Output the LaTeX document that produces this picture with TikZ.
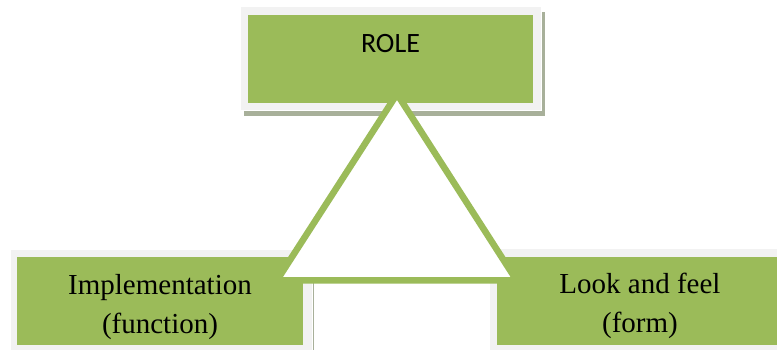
\documentclass[tikz,border=0pt]{standalone}
\usepackage{fontspec}
\setmainfont{Liberation Serif}
\newfontfamily\carl{Carlito}
\definecolor{ogreen}{HTML}{9BBB59}
\definecolor{oframe}{HTML}{F2F2F2}
\definecolor{oshadow}{HTML}{A8B09A}
\begin{document}
\begin{tikzpicture}[x=1pt,y=-1pt,
  shadowbox/.style={rectangle,inner sep=0pt,fill=oshadow,draw=none},
  framebox/.style={rectangle,inner sep=0pt,fill=oframe,draw=white,line width=1pt},
  greenbox/.style={rectangle,inner sep=0pt,fill=ogreen,draw=none},
  serifline/.style={anchor=base,inner sep=0pt,font=\fontsize{29}{39}\selectfont},
  roletext/.style={anchor=base,inner sep=0pt,font=\carl\fontsize{28}{34}\selectfont},
  tri/.style={draw=ogreen,fill=white,line width=6.5pt,line join=miter}]
\useasboundingbox (0,0) rectangle (777,350);
% top box
\node[shadowbox,minimum width=301pt,minimum height=104pt] (roleshadow) at (394.5,64) {};
\node[framebox,minimum width=301pt,minimum height=104.5pt] (roleframe) at (390.5,58.75) {};
\node[greenbox,minimum width=285pt,minimum height=88pt] (rolebox) at (390.5,59) {};
\node[roletext] (roletxt) at (390.5,53) {ROLE};
% left box
\node[shadowbox,minimum width=300pt,minimum height=106pt] (implshadow) at (164,309) {};
\node[framebox,minimum width=302pt,minimum height=113pt] (implframe) at (161,305.5) {};
\node[greenbox,minimum width=286pt,minimum height=88pt] (implbox) at (160,301) {};
\node[serifline] (impla) at (160,294) {Implementation};
\node[serifline] (implb) at (160,333) {(function)};
% right box
\node[framebox,minimum width=311pt,minimum height=114pt] (lookframe) at (644.5,305) {};
\node[greenbox,minimum width=293pt,minimum height=88pt] (lookbox) at (643.5,301) {};
\node[serifline] (looka) at (640,293) {Look and feel};
\node[serifline] (lookb) at (640,332) {(form)};
% triangle
\coordinate (apex) at (397,94);
\coordinate (bl) at (277,280.25);
\coordinate (br) at (516.5,280.25);
\draw[tri] (apex) -- (bl) -- (br) -- cycle;
\end{tikzpicture}
\end{document}
